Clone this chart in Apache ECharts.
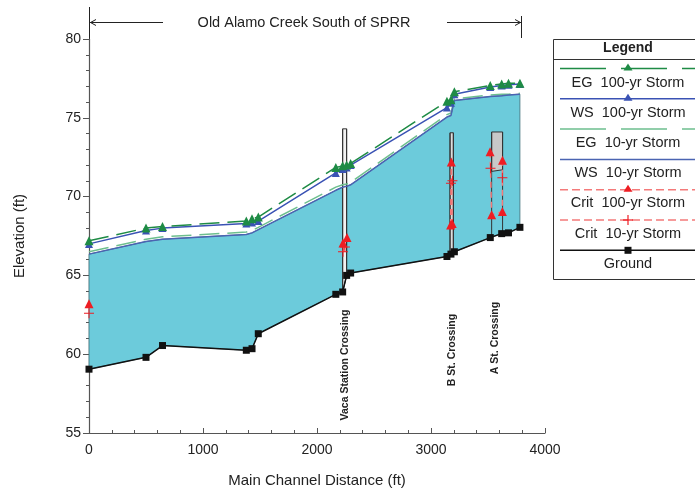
<!DOCTYPE html>
<html>
<head>
<meta charset="utf-8">
<script src="https://cdn.jsdelivr.net/npm/echarts@6/dist/echarts.min.js"></script>
<style>
html, body { margin: 0; padding: 0; background: #fff; }
#main { width: 695px; height: 493px; }
</style>
</head>
<body>
<div id="main"></div>
<script>
// cross section stations (ft) and elevations (ft)
var stations = [0, 500, 645, 1380, 1430, 1485, 2165, 2225, 2260, 2295, 3140, 3175, 3205, 3520, 3620, 3680, 3780];
var ground = [59.05, 59.8, 60.55, 60.25, 60.35, 61.3, 63.8, 63.95, 65.0, 65.15, 66.2, 66.35, 66.5, 67.4, 67.65, 67.7, 68.05];
var ws100 = [67.0, 67.85, 68.0, 68.3, 68.35, 68.45, 71.5, 71.75, 71.85, 72.0, 75.65, 75.95, 76.5, 76.95, 77.05, 77.1, 77.15];
var eg100 = [67.2, 68.0, 68.1, 68.45, 68.6, 68.7, 71.85, 71.95, 72.0, 72.1, 76.05, 76.15, 76.65, 77.05, 77.15, 77.2, 77.2];
var ws10 = [66.35, 67.15, 67.3, 67.6, 67.7, 67.9, 70.4, 70.6, 70.65, 70.75, 75.05, 75.15, 76.1, 76.35, 76.4, 76.45, 76.5];
var eg10 = [66.5, 67.3, 67.45, 67.75, 67.85, 68.05, 70.6, 70.75, 70.8, 70.9, 75.2, 75.3, 76.2, 76.45, 76.5, 76.5, 76.55];

// critical depth, only where computed (null = gap)
var crit100X = [0, 1000, 2228, 2263, 2700, 3172, 3178, 3186, 3400, 3518, 3532, 3626, 3627];
var crit100Y = [63.2, null, 67.05, 67.4, null, 68.2, 72.2, 68.3, null, 72.85, 68.85, 69.05, 72.3];
var crit10X = [0, 1000, 2228, 2245, 2700, 3175, 3188, 3400, 3522, 3560, 3626];
var crit10Y = [62.6, null, 66.5, 66.8, null, 70.85, 71.0, null, 71.8, null, 71.2];

// bridges
var bridgeNames = ['Vaca Station Crossing', 'B St. Crossing', 'A St. Crossing'];
var bridgeLeft = [2225, 3167, 3532];
var bridgeRight = [2260, 3196, 3628];
var bridgeTop = [74.3, 74.05, 74.1];
var bridgeLowChord = [null, null, 71.6];

var legendNames = ['EG  100-yr Storm', 'WS  100-yr Storm', 'EG  10-yr Storm', 'WS  10-yr Storm', 'Crit  100-yr Storm', 'Crit  10-yr Storm', 'Ground'];

var FONT = 'Liberation Sans, Arial, sans-serif';
var cGreen = '#1e8b45', cLtGreen = '#6dbf8e', cBlue = '#3a52b4', cBlue2 = '#4b64b2';
var cRed = '#ee1d23', cRedLine = '#f47a7a', cFill = '#6ccbdb';
var plusPath = 'path://M4.5,0h1v4.5h4.5v1h-4.5v4.5h-1v-4.5h-4.5v-1h4.5z';

function pairs(xs, ys) {
  return xs.map(function (x, i) { return [x, ys[i] == null ? '-' : ys[i]]; });
}
function groundAt(x) {
  for (var i = 1; i < stations.length; i++) {
    if (x <= stations[i]) {
      var t = (x - stations[i - 1]) / (stations[i] - stations[i - 1]);
      return ground[i - 1] + t * (ground[i] - ground[i - 1]);
    }
  }
  return ground[ground.length - 1];
}

var chart = echarts.init(document.getElementById('main'));

// legend box drawn by hand (stacked layout: line sample above the text)
var legendEls = [
  { type: 'rect', shape: { x: 553.5, y: 39.5, width: 160, height: 240 }, style: { fill: '#fff', stroke: '#333', lineWidth: 1 } },
  { type: 'line', shape: { x1: 553, y1: 59.5, x2: 700, y2: 59.5 }, style: { stroke: '#333', lineWidth: 1 } },
  { type: 'text', x: 628, y: 48, style: { text: 'Legend', font: 'bold 14px ' + FONT, fill: '#222', align: 'center', verticalAlign: 'middle' } }
];
var legStyles = [
  { c: cGreen, dash: [46, 15], m: 'tri', mc: cGreen },
  { c: cBlue, dash: null, m: 'tri', mc: cBlue },
  { c: cLtGreen, dash: [46, 15], m: null },
  { c: cBlue2, dash: null, m: null },
  { c: cRedLine, dash: [8, 4], m: 'tri', mc: cRed },
  { c: cRedLine, dash: [8, 4], m: 'plus', mc: cRed },
  { c: '#111', dash: null, m: 'sq', mc: '#111' }
];
legendNames.forEach(function (name, i) {
  var ly = 68.5 + i * 30.3, ty = 82.5 + i * 30.2, s = legStyles[i];
  legendEls.push({ type: 'line', shape: { x1: 560, y1: ly, x2: 700, y2: ly }, style: { stroke: s.c, lineWidth: 1.5, lineDash: s.dash } });
  if (s.m === 'tri') legendEls.push({ type: 'polygon', shape: { points: [[628, ly - 5], [623.5, ly + 2], [632.5, ly + 2]] }, style: { fill: s.mc } });
  if (s.m === 'sq') legendEls.push({ type: 'rect', shape: { x: 624.5, y: ly - 3.5, width: 7, height: 7 }, style: { fill: s.mc } });
  if (s.m === 'plus') {
    legendEls.push({ type: 'line', shape: { x1: 623, y1: ly, x2: 633, y2: ly }, style: { stroke: s.mc, lineWidth: 1.2 } });
    legendEls.push({ type: 'line', shape: { x1: 628, y1: ly - 5, x2: 628, y2: ly + 5 }, style: { stroke: s.mc, lineWidth: 1.2 } });
  }
  legendEls.push({ type: 'text', x: 628, y: ty, style: { text: name, font: '14.5px ' + FONT, fill: '#222', align: 'center', verticalAlign: 'middle' } });
});

// reach annotation at the top
var reachEls = [
  { type: 'line', shape: { x1: 89.5, y1: 7, x2: 89.5, y2: 40 }, style: { stroke: '#222', lineWidth: 1 } },
  { type: 'line', shape: { x1: 521.5, y1: 16, x2: 521.5, y2: 38 }, style: { stroke: '#222', lineWidth: 1 } },
  { type: 'line', shape: { x1: 90, y1: 22.5, x2: 163, y2: 22.5 }, style: { stroke: '#222', lineWidth: 1 } },
  { type: 'polyline', shape: { points: [[96, 19.5], [90.5, 22.5], [96, 25.5]] }, style: { stroke: '#222', lineWidth: 1, fill: null } },
  { type: 'line', shape: { x1: 447, y1: 22.5, x2: 521, y2: 22.5 }, style: { stroke: '#222', lineWidth: 1 } },
  { type: 'polyline', shape: { points: [[515, 19.5], [520.5, 22.5], [515, 25.5]] }, style: { stroke: '#222', lineWidth: 1, fill: null } },
  { type: 'text', x: 304, y: 23, style: { text: 'Old Alamo Creek South of SPRR', font: '14.5px ' + FONT, fill: '#222', align: 'center', verticalAlign: 'middle' } }
];

// bridge labels (pixel y of label centre)
var labelCy = [365, 350, 338];

var option = {
  animation: false,
  backgroundColor: '#fff',
  grid: { left: 89, right: 150, top: 39, bottom: 60 },
  xAxis: {
    type: 'value', min: 0, max: 4000, interval: 1000,
    name: 'Main Channel Distance (ft)', nameLocation: 'middle', nameGap: 40,
    nameTextStyle: { fontFamily: FONT, fontSize: 15, color: '#222' },
    axisLine: { show: true, lineStyle: { color: '#555', width: 1.2 } },
    axisTick: { show: true, inside: true, length: 5, lineStyle: { color: '#555' } },
    minorTick: { show: true, splitNumber: 5, length: 3, lineStyle: { color: '#555' } },
    axisLabel: { fontFamily: FONT, fontSize: 14, color: '#222', margin: 10, formatter: function (v) { return String(v); } },
    splitLine: { show: false }
  },
  yAxis: {
    type: 'value', min: 55, max: 80, interval: 5,
    name: 'Elevation (ft)', nameLocation: 'middle', nameGap: 62,
    nameTextStyle: { fontFamily: FONT, fontSize: 15, color: '#222' },
    axisLine: { show: true, lineStyle: { color: '#555', width: 1.2 } },
    axisTick: { show: true, length: 6, lineStyle: { color: '#555' } },
    minorTick: { show: true, splitNumber: 5, length: 3, lineStyle: { color: '#555' } },
    axisLabel: { fontFamily: FONT, fontSize: 14, color: '#222', margin: 8 },
    splitLine: { show: false }
  },
  graphic: legendEls.concat(reachEls),
  series: [
    {
      // water between ground and 10-yr water surface
      type: 'custom', z: 1, silent: true,
      data: [[0, 55]],
      renderItem: function (params, api) {
        var pts = [];
        stations.forEach(function (x, i) { pts.push(api.coord([x, ws10[i]])); });
        for (var i = stations.length - 1; i >= 0; i--) pts.push(api.coord([stations[i], ground[i]]));
        return { type: 'polygon', shape: { points: pts }, style: { fill: cFill, stroke: '#3d6f78', lineWidth: 0.8 } };
      }
    },
    {
      type: 'custom', z: 2, silent: true,
      data: bridgeNames.map(function (n, i) { return [bridgeLeft[i], bridgeTop[i]]; }),
      renderItem: function (params, api) {
        var i = params.dataIndex;
        var xl = bridgeLeft[i], xr = bridgeRight[i];
        var gl = groundAt(xl), gr = groundAt(xr);
        var lowL = bridgeLowChord[i] == null ? gl : bridgeLowChord[i];
        var lowR = bridgeLowChord[i] == null ? gr : bridgeLowChord[i] + 0.1;
        var children = [
          { type: 'polygon', shape: { points: [api.coord([xl, bridgeTop[i]]), api.coord([xr, bridgeTop[i]]), api.coord([xr, lowR]), api.coord([xl, lowL])] },
            style: { fill: i === 0 ? '#f2f2f2' : (i === 1 ? '#dcdcdc' : '#c8c8c8'), stroke: '#333', lineWidth: 1 } },
          { type: 'line', shape: { x1: api.coord([xl, 0])[0], y1: api.coord([xl, bridgeTop[i]])[1], x2: api.coord([xl, 0])[0], y2: api.coord([xl, gl])[1] }, style: { stroke: '#333', lineWidth: 1 } },
          { type: 'line', shape: { x1: api.coord([xr, 0])[0], y1: api.coord([xr, bridgeTop[i]])[1], x2: api.coord([xr, 0])[0], y2: api.coord([xr, gr])[1] }, style: { stroke: '#333', lineWidth: 1 } }
        ];
        var cx = (api.coord([xl, 0])[0] + api.coord([xr, 0])[0]) / 2 + (i === 2 ? -2 : 0);
        children.push({ type: 'text', x: cx, y: labelCy[i], rotation: Math.PI / 2,
          style: { text: bridgeNames[i], font: 'bold 10.5px ' + FONT, fill: '#222', align: 'center', verticalAlign: 'middle' } });
        return { type: 'group', children: children };
      }
    },
    {
      name: 'EG 10-yr Storm', type: 'line', z: 3, data: pairs(stations, eg10), showSymbol: false,
      lineStyle: { color: cLtGreen, width: 1.5, type: [20, 8] }
    },
    {
      name: 'WS 10-yr Storm', type: 'line', z: 3, data: pairs(stations, ws10), showSymbol: false,
      lineStyle: { color: cBlue2, width: 1.5 }
    },
    {
      name: 'WS 100-yr Storm', type: 'line', z: 4, data: pairs(stations, ws100), symbol: 'triangle', symbolSize: 8,
      itemStyle: { color: cBlue }, lineStyle: { color: cBlue, width: 1.5 }
    },
    {
      name: 'EG 100-yr Storm', type: 'line', z: 5, data: pairs(stations, eg100), symbol: 'triangle', symbolSize: 9,
      itemStyle: { color: cGreen }, lineStyle: { color: cGreen, width: 1.5, type: [20, 8] }
    },
    {
      name: 'Ground', type: 'line', z: 6, data: pairs(stations, ground), symbol: 'rect', symbolSize: 7,
      itemStyle: { color: '#111' }, lineStyle: { color: '#111', width: 1.5 }
    },
    {
      name: 'Crit 100-yr Storm', type: 'line', z: 7, data: pairs(crit100X, crit100Y), connectNulls: false,
      symbol: 'triangle', symbolSize: 9, itemStyle: { color: cRed }, lineStyle: { color: cRedLine, width: 1.5, type: [6, 4] }
    },
    {
      name: 'Crit 10-yr Storm', type: 'line', z: 7, data: pairs(crit10X, crit10Y), connectNulls: false,
      symbol: plusPath, symbolSize: 10, itemStyle: { color: cRed }, lineStyle: { color: cRedLine, width: 1.5, type: [6, 4] }
    }
  ]
};
chart.setOption(option);
</script>
</body>
</html>
